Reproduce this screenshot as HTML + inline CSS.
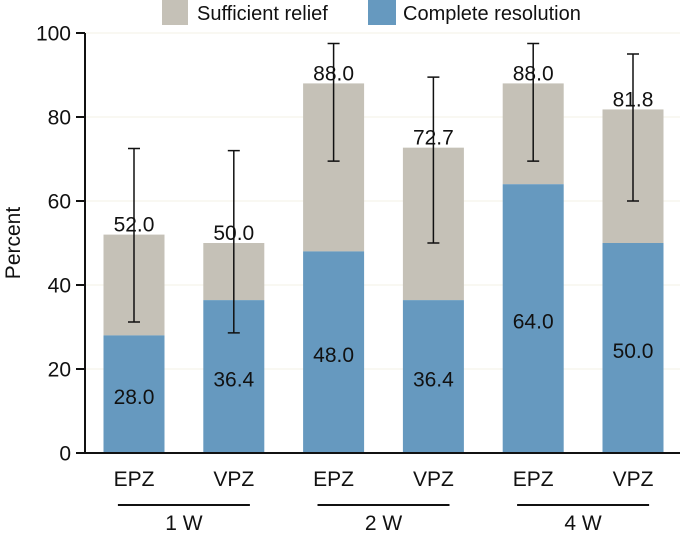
<!DOCTYPE html>
<html><head><meta charset="utf-8"><style>
body{margin:0;background:#fff}
svg{display:block;font-family:"Liberation Sans",Arial,sans-serif}
</style></head><body>
<svg id="chart" width="685" height="534"></svg>
<script>
const categories=["EPZ","VPZ","EPZ","VPZ","EPZ","VPZ"];
const groups=["1 W","2 W","4 W"];
const completeValues=[28.0,36.4,48.0,36.4,64.0,50.0];
const totalValues=[52.0,50.0,88.0,72.7,88.0,81.8];
const errLow=[31.2,28.6,69.5,50.0,69.5,60.0];
const errHigh=[72.5,72.0,97.5,89.5,97.5,95.0];
const yTicks=[0,20,40,60,80,100];

const svg=document.getElementById('chart');
const NS="http://www.w3.org/2000/svg";
const y0=453,yTop=33,axX=85;
const y=v=>y0-(y0-yTop)*v/100;
const xc=i=>134+i*99.8;
const bw=61;
function mk(t,a,txt){const e=document.createElementNS(NS,t);for(const k in a)e.setAttribute(k,a[k]);if(txt!==undefined)e.textContent=txt;svg.appendChild(e);return e;}

let e=mk('rect',{x:162,y:0,width:26,height:25,fill:'#c5c1b7'});


e=mk('text',{x:197,y:20,'font-size':20,fill:'#111'},'Sufficient relief');


e=mk('rect',{x:368,y:0,width:28,height:25,fill:'#6699bf'});


e=mk('text',{x:403,y:20,'font-size':20,fill:'#111'},'Complete resolution');



yTicks.forEach(t=>{
  let g=mk('line',{x1:axX,x2:680,y1:y(t),y2:y(t),stroke:'#f3f0e6','stroke-width':1});
  
  
  let l=mk('line',{x1:76,x2:axX,y1:y(t),y2:y(t),stroke:'#111','stroke-width':2});
  
  
  let tx=mk('text',{x:71,y:y(t)+7.5,'font-size':21,'text-anchor':'end',fill:'#111'},String(t));
  
  
});
e=mk('text',{x:0,y:0,'font-size':21,'text-anchor':'middle',fill:'#111',transform:'translate(20,243) rotate(-90)'},'Percent');



categories.forEach((c,i)=>{
  const x=xc(i)-bw/2;
  let r=mk('rect',{x:x,y:y(totalValues[i]),width:bw,height:y(completeValues[i])-y(totalValues[i]),fill:'#c5c1b7'});
  
  
  r=mk('rect',{x:x,y:y(completeValues[i]),width:bw,height:y0-y(completeValues[i]),fill:'#6699bf'});
  
  
  let t=mk('text',{x:xc(i),y:y(completeValues[i]/2)+10,'font-size':21,'text-anchor':'middle',fill:'#111'},completeValues[i].toFixed(1));
  
  
  t=mk('text',{x:xc(i),y:y(totalValues[i])-3,'font-size':21,'text-anchor':'middle',fill:'#111'},totalValues[i].toFixed(1));
  
  
  const cx=xc(i);
  let eb=mk('path',{d:`M${cx},${y(errHigh[i])}V${y(errLow[i])}M${cx-6},${y(errHigh[i])}H${cx+6}M${cx-6},${y(errLow[i])}H${cx+6}`,stroke:'#111','stroke-width':1.5,fill:'none'});
  
  
  t=mk('text',{x:cx,y:486,'font-size':21,'text-anchor':'middle',fill:'#111'},c);
  
  
});
groups.forEach((g,k)=>{
  const mid=(xc(2*k)+xc(2*k+1))/2;
  let l=mk('line',{x1:mid-66,x2:mid+66,y1:505,y2:505,stroke:'#111','stroke-width':2});
  
  
  let t=mk('text',{x:mid,y:530,'font-size':21,'text-anchor':'middle',fill:'#111'},g);
  
  
});
e=mk('path',{d:`M${axX},${y(100)}V${y0}H680`,stroke:'#111','stroke-width':2,fill:'none'});


</script>
</body></html>
